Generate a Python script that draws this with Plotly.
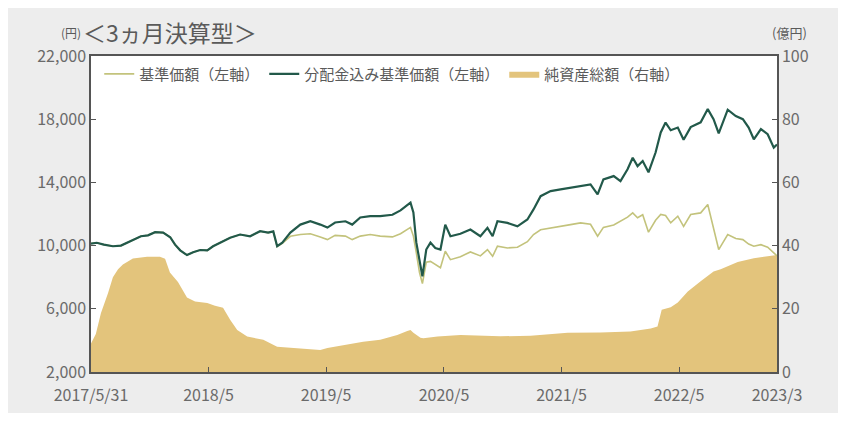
import plotly.graph_objects as go

# ---- data ----
line_dates = [
    "2017-05-31", "2017-06-18", "2017-07-10", "2017-08-07", "2017-09-01", "2017-10-02",
    "2017-11-02", "2017-11-24", "2017-12-16", "2018-01-10", "2018-02-01", "2018-02-16",
    "2018-03-04", "2018-03-25", "2018-04-13", "2018-05-05", "2018-05-27", "2018-06-14",
    "2018-07-06", "2018-08-06", "2018-09-06", "2018-10-07", "2018-11-07", "2018-12-02",
    "2018-12-18", "2018-12-30", "2019-01-15", "2019-02-09", "2019-03-12", "2019-04-12",
    "2019-05-13", "2019-06-04", "2019-06-28", "2019-07-30", "2019-08-20", "2019-09-14",
    "2019-10-15", "2019-11-15", "2019-12-23", "2020-01-17", "2020-02-17", "2020-02-26",
    "2020-03-06", "2020-03-16", "2020-03-25", "2020-04-06", "2020-04-19", "2020-05-04",
    "2020-05-20", "2020-06-04", "2020-06-20", "2020-07-21", "2020-08-21", "2020-09-21",
    "2020-10-13", "2020-10-29", "2020-11-13", "2020-12-14", "2021-01-14", "2021-02-14",
    "2021-03-05", "2021-03-27", "2021-04-27", "2021-05-28", "2021-06-28", "2021-07-29",
    "2021-08-29", "2021-09-20", "2021-10-08", "2021-11-09", "2021-11-30", "2021-12-22",
    "2022-01-07", "2022-01-22", "2022-02-07", "2022-02-25", "2022-03-19", "2022-04-04",
    "2022-04-19", "2022-05-05", "2022-05-27", "2022-06-14", "2022-07-06", "2022-08-06",
    "2022-08-28", "2022-09-15", "2022-10-01", "2022-10-29", "2022-11-23", "2022-12-15",
    "2023-01-02", "2023-01-18", "2023-02-09", "2023-03-02", "2023-03-21", "2023-03-31",
]
nav_reinvested = [
    10130, 10180, 10060, 9960, 10000, 10300,
    10590, 10650, 10850, 10820, 10530, 10060,
    9700, 9400, 9580, 9720, 9700, 9960,
    10200, 10500, 10700, 10590, 10910, 10820,
    10900, 9960, 10190, 10820, 11330, 11540,
    11330, 11140, 11460, 11540, 11330, 11780,
    11860, 11860, 11950, 12230, 12720, 12100,
    10200, 9100, 8050, 9750, 10190, 9850,
    9750, 11330, 10590, 10750, 11020, 10590,
    11120, 10590, 11540, 11440, 11220, 11650,
    12290, 13130, 13450, 13560, 13660, 13750,
    13870, 13240, 14190, 14400, 14080, 14830,
    15560, 15030, 15350, 14640, 15890, 17160,
    17790, 17300, 17470, 16700, 17500, 17800,
    18640, 18000, 17100, 18600, 18200, 18000,
    17470, 16730, 17370, 17050, 16200, 16400,
]
nav_base = [
    10130, 10180, 10060, 9960, 10000, 10300,
    10590, 10650, 10850, 10820, 10530, 10060,
    9700, 9400, 9580, 9720, 9700, 9960,
    10200, 10500, 10700, 10590, 10910, 10820,
    10880, 9950, 10150, 10590, 10700, 10750,
    10550, 10380, 10650, 10600, 10380, 10600,
    10700, 10600, 10550, 10750, 11150, 10600,
    9550, 8300, 7600, 8950, 9000, 8790,
    8600, 9640, 9110, 9300, 9600, 9350,
    9750, 9320, 9960, 9850, 9900, 10250,
    10700, 11000, 11120, 11250, 11330, 11440,
    11350, 10590, 11150, 11300, 11540, 11800,
    12070, 11760, 11950, 10850, 11600, 11970,
    11900, 11440, 11860, 11220, 11970, 12070,
    12600, 11010, 9750, 10700, 10450, 10380,
    10100, 9960, 10060, 9900, 9540, 9350,
]

asset_dates = [
    "2017-05-31", "2017-06-15", "2017-07-01", "2017-07-23", "2017-08-07", "2017-08-23",
    "2017-09-07", "2017-10-08", "2017-11-21", "2017-12-31", "2018-01-16", "2018-01-31",
    "2018-02-25", "2018-03-25", "2018-04-19", "2018-05-27", "2018-06-20", "2018-07-15",
    "2018-08-06", "2018-08-28", "2018-09-28", "2018-11-17", "2018-12-30", "2019-03-02",
    "2019-05-13", "2019-06-04", "2019-08-05", "2019-09-23", "2019-11-15", "2020-01-07",
    "2020-02-07", "2020-02-17", "2020-02-26", "2020-03-19", "2020-03-28", "2020-05-11",
    "2020-07-21", "2020-11-22", "2021-02-24", "2021-06-19", "2021-09-29", "2021-12-31",
    "2022-03-04", "2022-03-25", "2022-04-07", "2022-05-05", "2022-05-27", "2022-06-27",
    "2022-08-06", "2022-09-15", "2022-10-07", "2022-11-29", "2023-01-18", "2023-03-12",
    "2023-03-31",
]
net_assets = [
    9.0, 12.0, 18.7, 25.0, 30.0, 32.5,
    34.0, 35.9, 36.5, 36.5, 35.8, 31.5,
    28.5, 23.6, 22.3, 21.8, 21.0, 20.3,
    16.5, 13.3, 11.2, 10.2, 8.0, 7.6,
    7.0, 7.6, 8.6, 9.6, 10.2, 11.7,
    13.0, 13.3, 12.4, 10.8, 10.7, 11.2,
    11.7, 11.3, 11.5, 12.4, 12.5, 12.8,
    13.8, 14.4, 19.7, 20.5, 22.0, 25.5,
    28.7, 31.8, 32.5, 34.8, 36.0, 36.6,
    37.0,
]

x_tickvals = ["2017-05-31", "2018-05-31", "2019-05-31", "2020-05-31",
              "2021-05-31", "2022-05-31", "2023-03-31"]
x_ticktext = ["2017/5/31", "2018/5", "2019/5", "2020/5", "2021/5", "2022/5", "2023/3"]
left_ticks = [2000, 6000, 10000, 14000, 18000, 22000]
right_ticks = [0, 20, 40, 60, 80, 100]

FONT = "Noto Sans CJK JP"
TXT = "#5a5a5a"
TICKTXT = "#6a6a6a"
AX = "#555555"

fig = go.Figure()
fig.add_trace(go.Scatter(
    x=asset_dates, y=net_assets, name="純資産総額（右軸）", yaxis="y",
    mode="lines", line=dict(width=0, color="#e3c47c"), fill="tozeroy",
    fillcolor="#e3c47c", legendrank=3,
))
fig.add_trace(go.Scatter(
    x=line_dates, y=nav_base, name="基準価額（左軸）", yaxis="y2",
    mode="lines", line=dict(width=1.6, color="#c3c37c"), legendrank=1,
))
fig.add_trace(go.Scatter(
    x=line_dates, y=nav_reinvested, name="分配金込み基準価額（左軸）", yaxis="y2",
    mode="lines", line=dict(width=2.2, color="#22594a"), legendrank=2,
))

fig.update_layout(
    width=830, height=405,
    margin=dict(l=83, r=61, t=48, b=41),
    paper_bgcolor="#ededed", plot_bgcolor="white",
    font=dict(family=FONT, color=TXT, size=14),
    showlegend=True,
    legend=dict(orientation="h", x=0.012, y=0.995, xanchor="left", yanchor="top",
                bgcolor="rgba(0,0,0,0)", font=dict(size=15, color=TXT),
                traceorder="normal", itemwidth=30),
    xaxis=dict(type="date", range=["2017-05-31", "2023-03-31"],
               tickvals=x_tickvals, ticktext=x_ticktext,
               ticks="inside", ticklen=5, tickcolor=AX, tickwidth=1,
               ticklabelstandoff=8, automargin=False,
               showline=True, linecolor=AX, linewidth=1.5, mirror=True,
               showgrid=False, zeroline=False,
               tickfont=dict(size=16, color=TICKTXT)),
    yaxis=dict(side="right", range=[0, 100], tickvals=right_ticks,
               ticks="inside", ticklen=5, tickcolor=AX, automargin=False,
               showline=True, linecolor=AX, linewidth=1.5,
               showgrid=False, zeroline=False,
               tickfont=dict(size=16, color=TICKTXT)),
    yaxis2=dict(overlaying="y", side="left", range=[2000, 22000],
                tickvals=left_ticks, tickformat=",d", automargin=False,
                ticks="inside", ticklen=5, tickcolor=AX,
                showline=True, linecolor=AX, linewidth=1.5,
                showgrid=False, zeroline=False,
                tickfont=dict(size=16, color=TICKTXT)),
    annotations=[
        dict(text="(円)", xref="paper", yref="paper", x=-0.012, y=1.075,
             xanchor="right", yanchor="middle", showarrow=False,
             font=dict(size=12, color=TXT)),
        dict(text="＜3ヵ月決算型＞", xref="paper", yref="paper", x=-0.014, y=1.075,
             xanchor="left", yanchor="middle", showarrow=False,
             font=dict(size=23, color=TXT)),
        dict(text="(億円)", xref="paper", yref="paper", x=0.99, y=1.075,
             xanchor="left", yanchor="middle", showarrow=False,
             font=dict(size=13, color=TXT)),
    ],
)

fig.write_html("out.html")
